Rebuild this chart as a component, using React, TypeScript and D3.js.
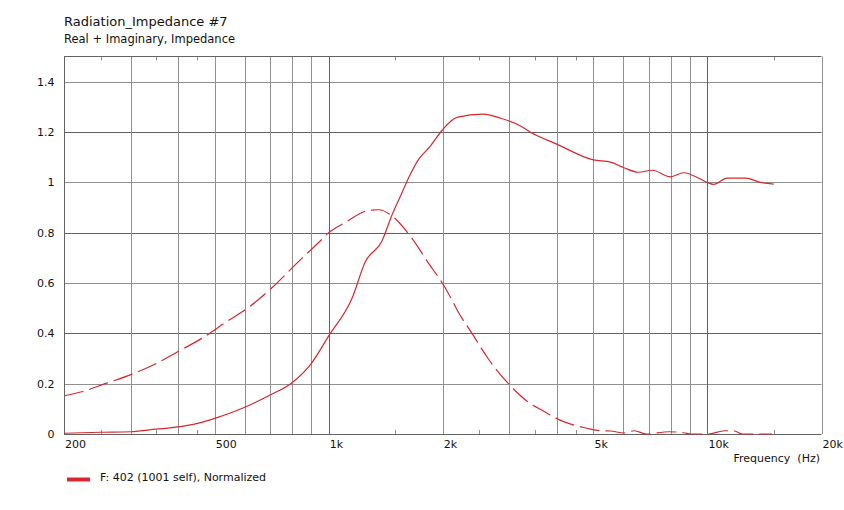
import * as d3 from "d3";

// Radiation impedance, normalized
const realFreq = [200, 250, 300, 350, 400, 450, 500, 600, 700, 800, 900, 1000, 1150, 1250, 1380, 1470, 1545, 1640, 1725, 1850, 1990, 2180, 2560, 2840, 3200, 3400, 4000, 5000, 5550, 6000, 6580, 7140, 7980, 8650, 9580, 9980, 10380, 11270, 12600, 13800, 14960];
const realVal = [0.003, 0.007, 0.009, 0.019, 0.028, 0.042, 0.062, 0.106, 0.155, 0.204, 0.281, 0.39, 0.536, 0.685, 0.765, 0.871, 0.944, 1.03, 1.09, 1.142, 1.206, 1.258, 1.271, 1.255, 1.225, 1.2, 1.152, 1.089, 1.08, 1.059, 1.04, 1.048, 1.022, 1.038, 1.013, 1.0, 0.992, 1.017, 1.017, 1.0, 0.993];

const imagFreq = [200, 223, 257, 299, 344, 397, 462, 535, 618, 714, 824, 960, 1000, 1105, 1262, 1354, 1468, 1657, 1834, 2009, 2115, 2188, 2389, 2643, 2986, 3420, 3622, 4170, 4800, 5200, 5545, 6010, 6410, 6900, 7900, 8650, 9080, 10040, 11100, 11800, 12350, 14800];
const imagVal = [0.152, 0.168, 0.2, 0.235, 0.274, 0.325, 0.38, 0.444, 0.506, 0.586, 0.679, 0.774, 0.8, 0.84, 0.887, 0.891, 0.867, 0.778, 0.679, 0.592, 0.533, 0.49, 0.4, 0.297, 0.199, 0.119, 0.098, 0.049, 0.023, 0.013, 0.012, 0.004, 0.013, 0, 0.009, 0.005, 0, 0, 0.013, 0.012, 0, 0];

const xGrid = [300, 400, 500, 600, 700, 800, 900, 1000, 2000, 3000, 4000, 5000, 6000, 7000, 8000, 9000, 10000];
const xMajor = [1000, 10000];
const xMinorTicks = [250, 350, 450, 1500, 2500, 3500, 4500, 15000];
const xLabels = [200, 500, 1000, 2000, 5000, 10000, 20000];
const yTicks = [0, 0.2, 0.4, 0.6, 0.8, 1, 1.2, 1.4];
const yMajor = [0.4, 0.8, 1.2];

const W = 844;
const H = 510;
const left = 64;
const right = 821.5;
const top = 56.5;
const bottom = 434;

const font = "'DejaVu Sans', Verdana, sans-serif";
const red = "#d7282d";
const lightGrid = "#909090";
const darkGrid = "#626262";

function fmtFreq(f: number) {
  return f >= 1000 ? `${f / 1000}k` : `${f}`;
}

export default function App() {
  const x = d3.scaleLog().domain([200, 20000]).range([left, right]);
  const y = d3.scaleLinear().domain([0, 1.5]).range([bottom, top]);
  const px = (v: number) => Math.round(v) + 0.5;

  const line = d3
    .line<[number, number]>()
    .x((d) => x(d[0]))
    .y((d) => y(d[1]))
    .curve(d3.curveMonotoneX);

  const realPath = line(realFreq.map((f, i) => [f, realVal[i]] as [number, number])) || "";
  const imagPath = line(imagFreq.map((f, i) => [f, imagVal[i]] as [number, number])) || "";

  return (
    <svg
      width={W}
      height={H}
      style={{ position: "absolute", left: 0, top: 0, background: "#fff" }}
      fontFamily={font}
    >
      <rect x={0} y={0} width={W} height={H} fill="#fff" />
      <text x={64} y={26} fontSize={13} fill="#111">
        Radiation_Impedance #7
      </text>
      <text x={64} y={42.5} fontSize={11.5} fill="#111">
        Real + Imaginary, Impedance
      </text>

      {/* horizontal grid */}
      {yTicks.slice(1).map((v) => (
        <line
          key={`h${v}`}
          x1={left}
          x2={right}
          y1={px(y(v))}
          y2={px(y(v))}
          stroke={yMajor.includes(v) ? darkGrid : lightGrid}
          strokeWidth={1}
        />
      ))}
      {/* vertical grid */}
      {xGrid.map((f) => (
        <line
          key={`v${f}`}
          x1={px(x(f))}
          x2={px(x(f))}
          y1={top}
          y2={bottom}
          stroke={xMajor.includes(f) ? darkGrid : lightGrid}
          strokeWidth={1}
        />
      ))}
      {/* minor ticks top & bottom */}
      {xMinorTicks.map((f) => (
        <g key={`m${f}`} stroke={lightGrid}>
          <line x1={px(x(f))} x2={px(x(f))} y1={top} y2={top + 4} />
          <line x1={px(x(f))} x2={px(x(f))} y1={bottom - 4} y2={bottom} />
        </g>
      ))}
      {/* frame */}
      <line x1={left} x2={right} y1={top} y2={top} stroke={darkGrid} />
      <line x1={px(right)} x2={px(right)} y1={top} y2={bottom} stroke={lightGrid} />
      <line x1={px(left)} x2={px(left)} y1={top} y2={bottom + 0.5} stroke={darkGrid} />
      <line x1={left} x2={right} y1={px(bottom)} y2={px(bottom)} stroke={darkGrid} />

      {/* curves */}
      <path d={realPath} fill="none" stroke={red} strokeWidth={1.2} />
      <path d={imagPath} fill="none" stroke={red} strokeWidth={1.2} strokeDasharray="20,6" />

      {/* y labels */}
      {yTicks.map((v) => (
        <text key={`yl${v}`} x={54.5} y={y(v) + 4} fontSize={11} textAnchor="end" fill="#111">
          {v}
        </text>
      ))}
      {/* x labels */}
      {xLabels.map((f) => (
        <text key={`xl${f}`} x={x(f) + 1} y={447.5} fontSize={11} fill="#111">
          {fmtFreq(f)}
        </text>
      ))}
      <text x={820} y={461.5} fontSize={11} textAnchor="end" fill="#111" style={{ whiteSpace: "pre" }}>
        {"Frequency  (Hz)"}
      </text>

      {/* legend */}
      <rect x={67} y={477.5} width={23} height={4} fill={red} />
      <text x={100} y={481} fontSize={11} fill="#111">
        F: 402 (1001 self), Normalized
      </text>
    </svg>
  );
}
